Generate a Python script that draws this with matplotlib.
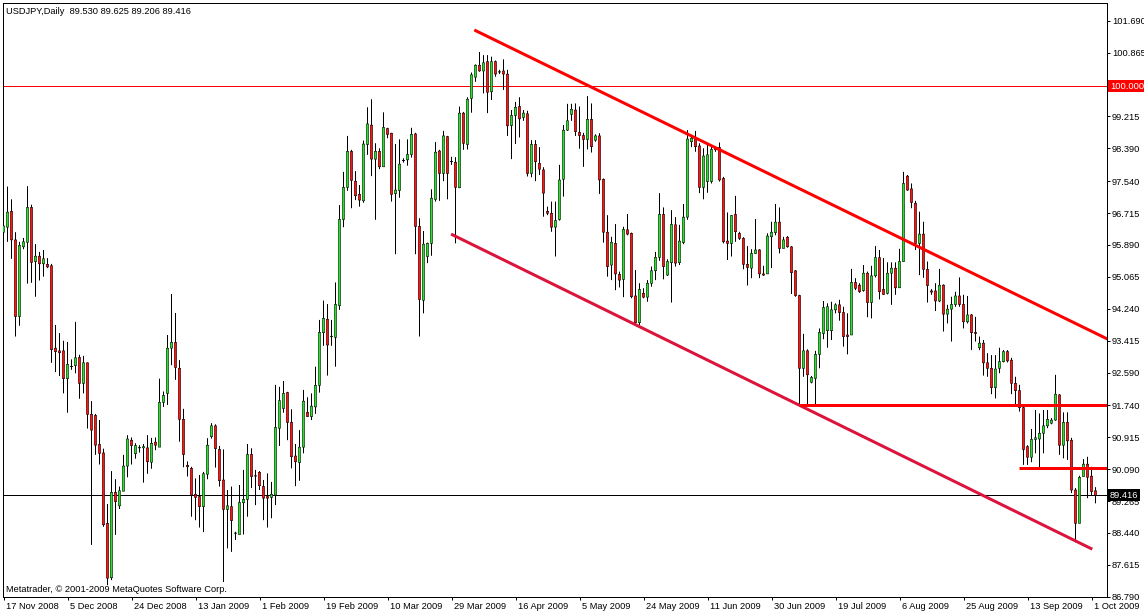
"Daily USDJPY candles with channel lines, MetaTrader style"

import matplotlib
matplotlib.use("Agg")
import matplotlib.pyplot as plt
from matplotlib.transforms import ScaledTranslation
import numpy as np

# one candle per trading day (Sun-Fri), 17 Nov 2008 .. 2 Oct 2009
opens = [
    96.22, 96.35, 96.76, 96.02, 94.04, 95.84, 95.96, 96.86, 95.46, 95.60,
    95.40, 95.39, 95.35, 93.22, 93.15, 93.15, 92.43, 92.74, 92.77, 92.98,
    92.31, 92.84, 91.51, 91.48, 90.73, 90.51, 88.69, 87.28, 89.49, 89.14,
    89.52, 90.17, 90.84, 90.49, 90.64, 90.64, 90.64, 90.27, 90.79, 90.66,
    91.82, 92.05, 93.22, 93.37, 92.70, 91.38, 90.19, 90.11, 89.44, 89.38,
    89.12, 89.96, 90.93, 91.21, 90.60, 89.81, 89.05, 89.12, 88.43, 88.40,
    89.22, 89.31, 90.47, 89.91, 90.01, 89.64, 89.38, 89.36, 89.42, 91.15,
    91.66, 92.07, 91.30, 90.43, 90.26, 90.66, 91.56, 91.45, 91.70, 92.26,
    93.62, 93.97, 93.52, 93.50, 94.32, 96.55, 97.38, 98.31, 97.54, 97.20,
    97.03, 98.49, 98.99, 98.11, 98.31, 97.91, 98.90, 98.78, 97.22, 97.30,
    98.07, 98.09, 98.23, 98.76, 96.37, 94.46, 95.59, 95.93, 97.07, 98.32,
    97.74, 98.69, 98.04, 98.03, 97.37, 99.30, 98.49, 99.68, 100.23, 100.54,
    100.39, 100.63, 99.85, 100.63, 100.36, 100.39, 100.31, 98.98, 99.24, 99.47,
    99.19, 99.28, 97.74, 98.49, 98.00, 97.83, 96.76, 96.71, 96.35, 96.55,
    97.59, 98.86, 99.27, 99.38, 98.80, 98.72, 98.62, 99.14, 98.60, 98.71,
    97.59, 96.22, 95.37, 95.93, 95.13, 95.00, 96.28, 96.19, 94.57, 93.88,
    94.64, 94.54, 94.90, 95.22, 95.57, 96.68, 95.11, 95.43, 96.41, 95.43,
    95.95, 96.61, 98.56, 98.63, 98.45, 97.38, 97.53, 97.53, 98.39, 98.41,
    97.61, 95.99, 95.93, 96.68, 96.19, 96.06, 95.39, 95.29, 95.67, 95.76,
    95.14, 95.14, 96.10, 96.21, 96.48, 95.80, 96.09, 95.84, 95.22, 94.58,
    92.70, 93.15, 92.34, 92.44, 93.06, 93.60, 93.67, 93.67, 94.21, 94.34,
    94.14, 93.56, 93.56, 94.92, 94.85, 94.71, 95.16, 94.40, 95.09, 95.56,
    94.74, 94.64, 95.16, 95.29, 94.78, 95.46, 97.67, 97.34, 96.97, 95.93,
    96.17, 95.26, 94.70, 94.70, 94.44, 94.85, 94.10, 94.23, 94.35, 94.57,
    94.35, 93.90, 94.08, 93.63, 93.23, 93.35, 92.84, 92.70, 92.20, 92.70,
    92.87, 93.13, 92.91, 92.31, 92.12, 91.68, 90.67, 90.40, 90.86, 90.87,
    91.02, 91.21, 91.28, 91.36, 92.01, 90.71, 91.30, 90.84, 89.55, 88.69,
    89.90, 90.22, 89.91, 89.530,
]
highs = [
    97.57, 97.40, 97.07, 96.22, 95.97, 96.07, 97.41, 96.93, 95.91, 95.71,
    95.76, 95.55, 95.40, 93.82, 93.61, 93.41, 93.38, 92.93, 93.90, 93.05,
    93.02, 92.85, 91.85, 91.52, 91.36, 90.62, 89.19, 90.04, 89.83, 89.64,
    90.46, 90.97, 90.91, 90.76, 90.71, 90.74, 90.97, 90.90, 90.91, 92.43,
    92.10, 93.56, 94.62, 94.13, 92.91, 91.65, 90.29, 90.15, 89.85, 89.94,
    90.02, 90.89, 91.28, 91.25, 90.69, 90.60, 89.55, 89.64, 88.47, 89.68,
    90.07, 90.74, 90.63, 90.07, 90.04, 89.81, 89.98, 89.76, 92.27, 92.22,
    92.37, 92.09, 91.64, 90.74, 91.10, 92.14, 91.95, 92.05, 92.74, 93.95,
    94.45, 94.36, 93.95, 94.92, 96.92, 97.78, 98.71, 98.35, 97.80, 97.44,
    98.59, 99.45, 99.66, 98.52, 98.39, 99.32, 98.92, 98.79, 98.50, 98.62,
    98.13, 98.62, 98.92, 98.79, 96.58, 96.25, 95.95, 97.33, 98.55, 98.35,
    98.84, 98.71, 98.17, 98.16, 99.47, 99.33, 99.71, 100.35, 100.56, 100.88,
    100.80, 100.80, 100.76, 100.66, 100.42, 100.69, 100.42, 99.38, 99.59, 99.71,
    99.38, 99.36, 98.60, 98.60, 98.42, 97.90, 96.88, 97.01, 97.01, 97.96,
    98.99, 99.54, 99.54, 99.55, 99.47, 98.79, 99.74, 99.55, 98.75, 98.78,
    97.61, 96.66, 96.10, 96.43, 95.20, 96.36, 96.69, 96.21, 95.24, 94.90,
    94.77, 94.98, 95.33, 95.71, 97.23, 96.86, 95.52, 96.79, 96.61, 96.41,
    96.95, 98.86, 98.73, 98.84, 98.52, 98.39, 98.52, 98.43, 98.43, 98.54,
    97.65, 96.73, 96.66, 97.16, 96.23, 96.09, 95.86, 95.78, 96.56, 95.78,
    95.35, 96.19, 96.49, 96.95, 96.86, 96.10, 96.12, 95.86, 95.24, 94.60,
    93.59, 93.19, 92.50, 93.15, 93.73, 94.44, 94.38, 94.42, 94.38, 94.47,
    94.29, 94.12, 95.27, 95.03, 94.90, 95.37, 95.20, 95.35, 95.86, 95.76,
    95.55, 95.44, 95.44, 95.44, 95.79, 97.78, 97.70, 97.48, 97.03, 96.75,
    96.49, 95.46, 94.75, 94.90, 95.27, 94.87, 94.34, 94.55, 94.68, 95.05,
    94.60, 94.57, 94.10, 94.03, 93.52, 93.43, 93.09, 93.04, 93.04, 93.23,
    93.17, 93.17, 92.97, 92.48, 92.27, 91.71, 90.71, 91.13, 91.62, 91.53,
    91.62, 91.62, 91.41, 92.53, 92.03, 91.56, 91.56, 90.90, 89.60, 89.92,
    90.35, 90.41, 90.15, 89.625,
]
lows = [
    95.97, 95.97, 95.53, 93.52, 93.80, 95.78, 94.89, 94.91, 94.55, 94.97,
    95.07, 95.29, 92.84, 92.60, 92.50, 92.05, 91.55, 92.66, 92.57, 91.91,
    92.05, 91.14, 88.13, 90.46, 90.21, 88.60, 87.09, 87.22, 88.39, 89.06,
    89.52, 89.88, 90.21, 90.36, 90.52, 89.74, 89.97, 90.10, 90.58, 90.66,
    91.70, 91.75, 92.78, 92.40, 90.80, 90.14, 89.90, 88.86, 88.77, 88.58,
    88.46, 89.83, 90.88, 90.13, 89.64, 87.17, 88.04, 87.95, 88.26, 88.40,
    88.40, 88.86, 89.60, 89.16, 89.55, 88.77, 88.58, 88.82, 89.16, 90.69,
    91.55, 90.84, 90.11, 89.65, 89.79, 90.50, 91.45, 91.36, 91.52, 92.07,
    93.28, 92.51, 93.28, 92.74, 94.21, 96.35, 97.29, 96.84, 97.05, 96.88,
    96.98, 98.22, 97.67, 96.54, 97.85, 97.91, 98.65, 97.01, 95.65, 97.11,
    98.02, 97.94, 98.15, 95.65, 93.52, 94.12, 95.42, 95.61, 97.01, 97.03,
    97.54, 97.07, 97.96, 95.93, 97.36, 98.35, 98.36, 99.31, 100.11, 100.37,
    99.81, 99.30, 99.64, 100.24, 100.31, 99.90, 98.71, 98.11, 98.50, 98.67,
    99.10, 97.66, 97.64, 97.54, 97.70, 96.62, 96.66, 96.23, 95.59, 96.52,
    97.14, 98.84, 99.10, 98.71, 98.38, 97.91, 98.36, 98.28, 98.56, 97.21,
    95.95, 95.07, 94.98, 94.72, 94.79, 94.54, 96.14, 94.51, 93.85, 93.82,
    94.51, 94.42, 94.81, 94.98, 95.48, 95.00, 95.09, 94.40, 95.33, 95.37,
    95.91, 96.54, 98.42, 98.30, 97.23, 97.07, 97.24, 97.48, 98.30, 97.53,
    95.93, 95.50, 95.59, 95.97, 96.02, 95.26, 94.84, 95.03, 95.66, 95.03,
    95.09, 95.14, 95.29, 96.14, 95.67, 95.80, 95.82, 94.62, 94.55, 91.75,
    92.48, 91.75, 92.31, 91.72, 92.70, 93.45, 93.23, 93.43, 94.12, 93.93,
    93.26, 93.06, 93.56, 94.72, 94.65, 94.68, 94.02, 93.99, 95.05, 94.48,
    94.60, 94.61, 94.34, 94.60, 94.78, 95.46, 97.29, 96.84, 95.76, 95.11,
    95.04, 94.40, 94.60, 94.18, 94.41, 93.65, 93.86, 93.39, 94.29, 94.29,
    93.73, 93.86, 93.17, 93.39, 93.17, 92.51, 92.48, 92.03, 91.92, 92.57,
    92.85, 92.85, 92.03, 91.77, 91.58, 90.20, 90.20, 90.27, 90.50, 90.11,
    90.50, 91.15, 91.25, 91.34, 90.46, 90.37, 90.33, 89.47, 88.20, 88.69,
    89.90, 89.34, 89.40, 89.206,
]
closes = [
    96.38, 96.74, 96.02, 94.04, 95.88, 95.97, 96.86, 95.44, 95.60, 95.40,
    95.53, 95.32, 93.18, 93.13, 93.10, 92.43, 92.80, 92.75, 92.97, 92.31,
    92.84, 91.51, 91.10, 90.71, 90.50, 88.65, 87.27, 89.49, 89.25, 89.53,
    90.17, 90.87, 90.70, 90.70, 90.65, 90.67, 90.28, 90.76, 90.71, 91.82,
    92.00, 93.22, 93.37, 92.72, 91.38, 90.47, 90.15, 89.42, 89.36, 89.12,
    89.97, 90.71, 91.21, 90.62, 89.79, 89.05, 89.14, 88.76, 88.44, 89.23,
    89.31, 90.47, 89.90, 89.92, 89.66, 89.34, 89.34, 89.44, 91.17, 91.86,
    92.05, 91.30, 90.41, 90.28, 90.66, 91.85, 91.45, 91.72, 92.26, 93.63,
    93.99, 93.30, 93.53, 94.35, 96.55, 97.38, 98.31, 97.56, 97.16, 97.05,
    98.50, 99.02, 98.11, 98.31, 97.91, 98.93, 98.75, 97.20, 97.31, 97.98,
    98.08, 98.23, 98.75, 96.37, 94.48, 95.91, 95.93, 97.10, 98.29, 97.74,
    98.71, 97.74, 98.05, 97.38, 99.30, 98.52, 99.66, 100.29, 100.54, 100.39,
    100.60, 99.84, 100.63, 100.31, 100.37, 100.31, 98.97, 99.24, 99.45, 99.15,
    99.30, 97.74, 98.49, 98.04, 97.85, 97.23, 96.71, 96.35, 96.52, 97.57,
    98.86, 99.10, 99.40, 98.82, 98.72, 98.62, 99.14, 98.43, 98.71, 97.57,
    96.22, 95.33, 95.96, 95.14, 94.98, 96.29, 96.17, 94.55, 93.88, 94.74,
    94.54, 94.90, 95.22, 95.57, 96.68, 95.33, 95.46, 96.42, 95.42, 95.99,
    96.61, 98.63, 98.65, 98.43, 97.38, 98.19, 98.22, 98.36, 98.35, 97.57,
    95.97, 95.93, 96.65, 96.23, 96.06, 95.39, 95.31, 95.67, 95.76, 95.14,
    95.11, 96.12, 96.22, 96.48, 95.80, 96.02, 95.84, 95.17, 94.58, 92.70,
    93.15, 92.53, 92.46, 93.06, 93.63, 94.27, 94.29, 94.21, 94.34, 94.14,
    93.52, 93.52, 94.92, 94.77, 94.68, 95.16, 94.40, 95.09, 95.56, 94.68,
    94.61, 95.16, 95.29, 94.78, 95.46, 97.48, 97.31, 96.99, 95.93, 96.17,
    95.26, 94.84, 94.67, 94.44, 94.85, 94.10, 94.23, 94.35, 94.57, 94.35,
    93.90, 94.08, 93.62, 93.60, 93.35, 92.84, 92.70, 92.20, 92.68, 92.87,
    93.13, 92.89, 92.31, 92.12, 91.68, 90.60, 90.40, 90.86, 90.90, 91.02,
    91.21, 91.38, 91.36, 92.03, 90.71, 91.30, 90.82, 89.55, 88.69, 89.88,
    90.22, 89.88, 89.51, 89.416,
]

date_labels = ["17 Nov 2008", "5 Dec 2008", "24 Dec 2008", "13 Jan 2009",
               "1 Feb 2009", "19 Feb 2009", "10 Mar 2009", "29 Mar 2009",
               "16 Apr 2009", "5 May 2009", "24 May 2009", "11 Jun 2009",
               "30 Jun 2009", "19 Jul 2009", "6 Aug 2009", "25 Aug 2009",
               "13 Sep 2009", "1 Oct 2009"]
label_every = 16  # bars between date labels

price_ticks = [101.690, 100.865, 99.215, 98.390, 97.540, 96.715, 95.890,
               95.065, 94.240, 93.415, 92.590, 91.740, 90.915, 90.090,
               89.265, 88.440, 87.615, 86.790]

level_price = 100.000
bid_price = 89.416

# drawn objects: (bar index, price) anchor pairs
upper_channel = [(117.7, 101.45), (276.5, 93.43)]
lower_channel = [(111.9, 96.17), (272.2, 88.02)]
support_high = [(199.0, 91.76), (276.5, 91.76)]
support_low = [(253.8, 90.11), (276.5, 90.11)]

BULL = "#2ee02e"
BEAR = "#ff1414"
FONT = "Liberation Sans"
FS = 6.7
PX = 0.72  # one pixel in points

W, H = 1144, 616
AX_L, AX_B, AX_W, AX_H = 3, 19, 1104, 594    # axes box in pixels
BAR_PX = 4                                    # pixels per candle
YMIN, YMAX = 86.783, 102.148
fig = plt.figure(figsize=(W / 100, H / 100), dpi=100)
ax = fig.add_axes([AX_L / W, AX_B / H, AX_W / W, AX_H / H])

o = np.array(opens)
h = np.array(highs)
l = np.array(lows)
c = np.array(closes)
x = np.arange(len(c))

ax.axhline(level_price, color="red", lw=PX, zorder=1)
ax.axhline(bid_price, color="black", lw=PX, zorder=1)

ax.vlines(x, l, h, color="black", lw=PX, zorder=2, snap=False)
colors = np.where(c >= o, BULL, BEAR)
ax.bar(x, np.abs(c - o), bottom=np.minimum(o, c), width=2.5 / BAR_PX,
       color=colors, edgecolor="black", linewidth=0.5 * PX, zorder=3, snap=False)

for pts, col in [(upper_channel, "#ff0000"), (lower_channel, "#dc143c"),
                 (support_high, "#ff0000"), (support_low, "#ff0000")]:
    xs, ys = zip(*pts)
    ax.plot(xs, ys, color=col, lw=3 * PX, solid_capstyle="butt", zorder=4)

# bar i centred on pixel column AX_L + 4i (+0.5)
ax.set_xlim(-0.125, AX_W / BAR_PX - 0.125)
ax.set_ylim(YMIN, YMAX)
for sp in ax.spines.values():
    sp.set_linewidth(PX)
    sp.set_color("black")

# right price scale
ax.yaxis.tick_right()
ax.set_yticks(price_ticks)
ax.set_yticklabels([f"{p:.3f}" for p in price_ticks], fontfamily=FONT, fontsize=FS)
ax.tick_params(axis="y", length=3 * PX, width=PX, pad=1.5)

# bottom date scale, labels start just right of each tick
xt = np.arange(len(date_labels)) * label_every
ax.set_xticks(xt)
ax.set_xticklabels([])
ax.tick_params(axis="x", length=3 * PX, width=PX)
shift = ScaledTranslation(3 / 100, -5 / 100, fig.dpi_scale_trans)
for t, lab in zip(xt, date_labels):
    ax.text(t, 0, lab, transform=ax.get_xaxis_transform() + shift,
            ha="left", va="top", fontfamily=FONT, fontsize=FS, clip_on=False)

# price boxes on the scale
box_shift = ScaledTranslation(3 / 100, 0, fig.dpi_scale_trans)
for price, bg in [(level_price, "red"), (bid_price, "black")]:
    ax.text(1.0, price, f"{price:.3f}", transform=ax.get_yaxis_transform() + box_shift,
            ha="left", va="center", color="white", fontfamily=FONT, fontsize=FS,
            bbox=dict(facecolor=bg, edgecolor="none", boxstyle="square,pad=0.18"),
            clip_on=False, zorder=10)

fig.text(6.5 / W, 1 - 11 / H, "USDJPY,Daily  89.530 89.625 89.206 89.416",
         va="center", ha="left", fontfamily=FONT, fontsize=FS)
fig.text(6 / W, 1 - 590 / H, "Metatrader, \u00a9 2001-2009 MetaQuotes Software Corp.",
         va="center", ha="left", fontfamily=FONT, fontsize=FS)

fig.savefig("out.png", dpi=100)
